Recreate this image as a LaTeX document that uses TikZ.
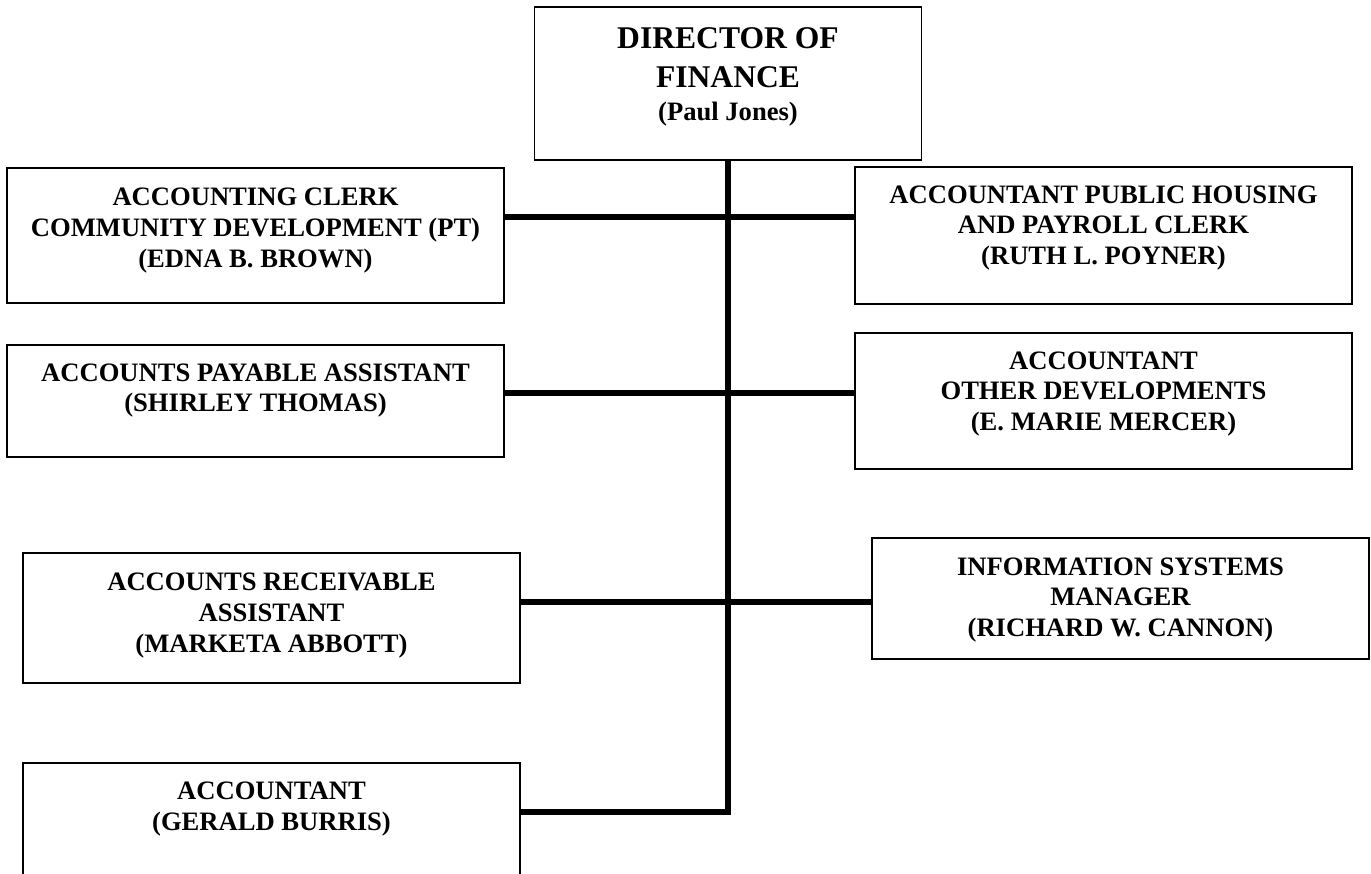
\documentclass[tikz,border=0pt]{standalone}
\usepackage{fontspec}
\setmainfont{Liberation Serif}
\usepackage{tikz}

\begin{document}
\begin{tikzpicture}[x=0.5pt, y=-0.5pt,
    jobbox/.style={draw, line width=0.75pt, minimum width=248.5pt, inner sep=0pt},
    jobtext/.style={align=center, font=\bfseries\fontsize{13.3}{15.3}\selectfont},
    link/.style={line width=2.8pt}]
    \clip (0,0) rectangle (1371,873);

    % Director
    \node[jobbox, minimum width=193.5pt, minimum height=76.5pt] (dir) at (728,83.5) {};
    \node[jobtext, font=\bfseries\fontsize{15.8}{19.5}\selectfont] (dirtext) at (728,77)
        {DIRECTOR OF\\FINANCE\\[-3pt]{\fontsize{13.3}{15.3}\selectfont (Paul Jones)}};

    % Left column
    \node[jobbox, minimum height=67.5pt] (acclerk) at (255.5,235.5) {};
    \node[jobtext] (acclerktext) at (255.5,230.5)
        {ACCOUNTING CLERK\\COMMUNITY DEVELOPMENT (PT)\\(EDNA B. BROWN)};

    \node[jobbox, minimum height=56pt] (payable) at (255.5,401) {};
    \node[jobtext] (payabletext) at (255.5,390.5)
        {ACCOUNTS PAYABLE ASSISTANT\\(SHIRLEY THOMAS)};

    \node[jobbox, minimum height=65pt] (receivable) at (271.5,618) {};
    \node[jobtext] (receivabletext) at (271.5,615.5)
        {ACCOUNTS RECEIVABLE\\ASSISTANT\\(MARKETA ABBOTT)};

    \node[jobbox, minimum height=78.5pt] (accountant) at (271.5,841.5) {};
    \node[jobtext] (accountanttext) at (271.5,809)
        {ACCOUNTANT\\(GERALD BURRIS)};

    % Right column
    \node[jobbox, minimum height=68.5pt] (housing) at (1103.5,235.5) {};
    \node[jobtext] (housingtext) at (1103.5,228)
        {ACCOUNTANT PUBLIC HOUSING\\AND PAYROLL CLERK\\(RUTH L. POYNER)};

    \node[jobbox, minimum height=68pt] (otherdev) at (1103.5,401) {};
    \node[jobtext] (otherdevtext) at (1103.5,394)
        {ACCOUNTANT\\OTHER DEVELOPMENTS\\(E. MARIE MERCER)};

    \node[jobbox, minimum height=60.5pt] (infosys) at (1120.5,598.5) {};
    \node[jobtext] (infosystext) at (1120.5,600)
        {INFORMATION SYSTEMS\\MANAGER\\(RICHARD W. CANNON)};

    % Connectors
    \coordinate (trunkend) at (728,812);
    \draw[link] (dir.south) -- (trunkend) -- (accountant.east |- trunkend);
    \draw[link] (acclerk.east |- 0,217) -- (housing.west |- 0,217);
    \draw[link] (payable.east |- 0,393) -- (otherdev.west |- 0,393);
    \draw[link] (receivable.east |- 0,602) -- (infosys.west |- 0,602);

\end{tikzpicture}
\end{document}
